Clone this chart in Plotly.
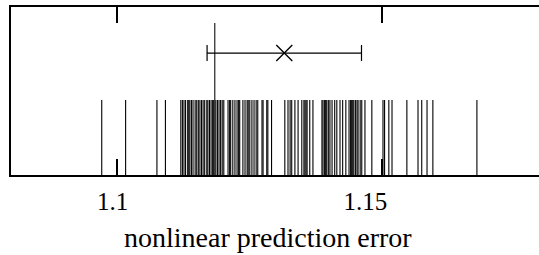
import plotly.graph_objects as go

# Surrogate nonlinear prediction errors (rug)
surrogates = [
    1.0972, 1.1017, 1.1076, 1.1092,
    1.1121, 1.1124, 1.1127, 1.1130, 1.1134, 1.1136, 1.1138, 1.1141, 1.1144, 1.1148,
    1.1151, 1.1154, 1.1157, 1.1160, 1.1163, 1.1166, 1.1170, 1.1172, 1.1175, 1.1178,
    1.1181, 1.1183, 1.1187, 1.1190, 1.1193, 1.1196, 1.1199, 1.1202,
    1.1210, 1.1213, 1.1215, 1.1219, 1.1223, 1.1227, 1.1230, 1.1232,
    1.1238, 1.1242, 1.1246, 1.1248, 1.1251, 1.1255, 1.1259, 1.1263, 1.1266,
    1.1274, 1.1276, 1.1283, 1.1285, 1.1292,
    1.1317, 1.1323, 1.1327, 1.1330, 1.1336, 1.1342, 1.1349, 1.1353, 1.1355, 1.1357,
    1.1359, 1.1364, 1.1370,
    1.1387, 1.1389, 1.1392, 1.1394, 1.1396, 1.1399, 1.1402, 1.1406, 1.1411, 1.1415,
    1.1421, 1.1426, 1.1432, 1.1438, 1.1441, 1.1443, 1.1445, 1.1447, 1.1450, 1.1453,
    1.1455, 1.1459, 1.1462, 1.1468, 1.1481, 1.1502, 1.1505, 1.1513, 1.1519, 1.1547,
    1.1568, 1.1575, 1.1585, 1.1596, 1.1679,
]
original_value = 1.1185
surrogate_mean = 1.1316
surrogate_std = 0.01455
tick_values = [1.1, 1.15]
tick_labels = ["1.1", "1.15\u00a0\u00a0\u00a0\u00a0"]
x_title = "nonlinear prediction error"

RUG_H = 0.446
ORIG_H = 0.905
BAR_Y = 0.726

rx, ry = [], []
for v in surrogates:
    rx += [v, v, None]
    ry += [0, RUG_H, None]

fig = go.Figure()
fig.add_trace(go.Scatter(x=rx, y=ry, mode="lines",
                         line=dict(color="black", width=1.1), hoverinfo="skip"))
fig.add_trace(go.Scatter(x=[original_value, original_value], y=[0, ORIG_H], mode="lines",
                         line=dict(color="#222", width=1.2), hoverinfo="skip"))
fig.add_trace(go.Scatter(x=[surrogate_mean], y=[BAR_Y], mode="markers",
                         marker=dict(symbol="x-thin", size=16,
                                     line=dict(color="black", width=1.4)),
                         error_x=dict(type="data", array=[surrogate_std], color="black",
                                      thickness=1.2, width=8)))

serif = "Liberation Serif"
fig.update_layout(
    width=539, height=255,
    margin=dict(l=11, r=0, t=7, b=80),
    paper_bgcolor="white", plot_bgcolor="white",
    showlegend=False,
    font=dict(family=serif, size=25, color="black"),
    xaxis=dict(range=[1.0801, 1.1796], tickvals=tick_values, ticktext=tick_labels,
               ticks="inside", ticklen=16, tickwidth=2, tickcolor="black",
               showline=True, linewidth=2, linecolor="black", mirror="ticks",
               showgrid=False, zeroline=False, ticklabelshift=-4,
               ticklabelstandoff=3,
               tickfont=dict(family=serif, size=25, color="black")),
    yaxis=dict(range=[0, 1], showline=True, linewidth=2, linecolor="black",
               mirror=False, showticklabels=False, ticks="", showgrid=False,
               zeroline=False),
    annotations=[dict(text=x_title, xref="paper", yref="paper", x=0.486, y=0,
                      yshift=-45, xanchor="center", yanchor="top", showarrow=False,
                      font=dict(family=serif, size=28, color="black"))],
)
fig.write_html("out.html", config={"displayModeBar": False})

with open("out.html", encoding="utf-8") as f:
    html = f.read()
html = html.replace("<head>", "<head><style>html,body{margin:0;padding:0;}</style>", 1)
with open("out.html", "w", encoding="utf-8") as f:
    f.write(html)
